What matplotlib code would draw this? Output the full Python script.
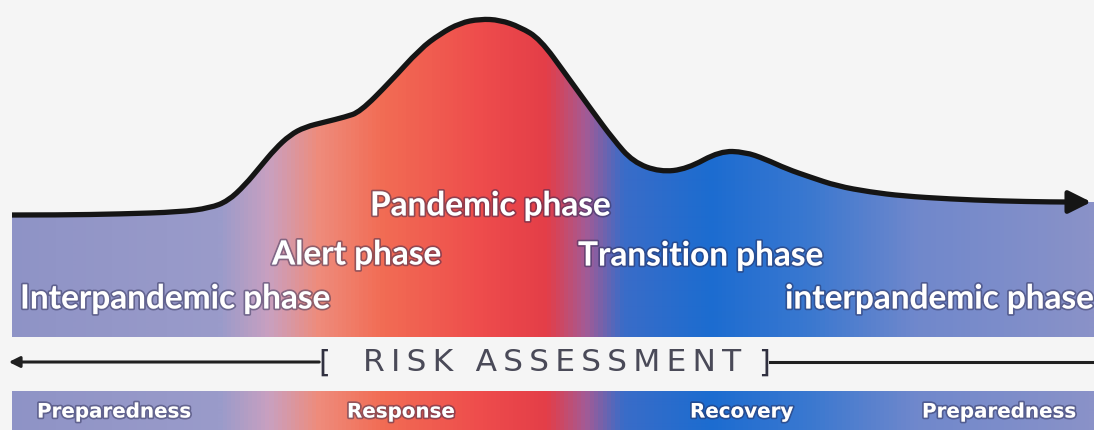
import numpy as np
import matplotlib
matplotlib.use("Agg")
import matplotlib.pyplot as plt
from matplotlib.colors import LinearSegmentedColormap
from matplotlib.patches import PathPatch, Rectangle
from matplotlib.path import Path
import matplotlib.patheffects as pe

# curve profile (pixel coords, y down) - used as control points of a smooth path
curve_x = [12, 60, 120, 180, 210, 228, 245, 260, 275, 290, 305, 325, 345, 360,
           390, 420, 440, 460, 480, 500, 520, 540, 567, 593, 613, 633, 660,
           687, 720, 745, 765, 787, 810, 837, 870, 903, 950, 1000, 1053, 1080]
curve_y = [216, 216, 215, 213, 209, 202, 186, 168, 150, 136, 128, 123, 118, 113,
           83, 50, 35, 24, 20, 21, 28, 40, 77, 113, 140, 163, 173,
           170, 152, 153, 160, 170, 178, 187, 193, 197, 200, 202, 203, 203]

phase_labels = ["Interpandemic phase", "Alert phase", "Pandemic phase",
                "Transition phase", "interpandemic phase"]
phase_x = [20, 272, 370, 578, 785]
phase_y = [300, 256, 207, 257, 300]

action_labels = ["Preparedness", "Response", "Recovery", "Preparedness"]
action_x = [37, 347, 690, 922]

W, H = 1094, 431
fig = plt.figure(figsize=(W / 100, H / 100), dpi=100)
fig.patch.set_facecolor("#f5f5f5")
ax = fig.add_axes([0, 0, 1, 1])
ax.set_xlim(0, W)
ax.set_ylim(H, 0)
ax.axis("off")

stops = [(0.00, "#8e93c6"), (0.20, "#9a9bca"), (0.245, "#c9a0c0"),
         (0.29, "#ee8c7c"), (0.35, "#f26c54"), (0.44, "#ee4c4c"),
         (0.50, "#e43e48"), (0.535, "#a65a94"), (0.57, "#3a6cc8"),
         (0.65, "#1c6cd0"), (0.74, "#3a78d0"), (0.84, "#7088cc"),
         (1.00, "#8a92c8")]
cmap = LinearSegmentedColormap.from_list("phase", stops)
grad = cmap(np.linspace(0, 1, 1094))[None, :, :3]

# smooth path: quadratic bezier through midpoints
pts = list(zip(curve_x, curve_y))
verts = [pts[0]]
codes = [Path.MOVETO]
for i in range(1, len(pts) - 1):
    mid = ((pts[i][0] + pts[i + 1][0]) / 2, (pts[i][1] + pts[i + 1][1]) / 2)
    verts += [pts[i], mid]
    codes += [Path.CURVE3, Path.CURVE3]
verts.append(pts[-1])
codes.append(Path.LINETO)
line_path = Path(verts, codes)

base = 338
fill_path = Path(verts + [(W, curve_y[-1]), (W, base), (curve_x[0], base), pts[0]],
                 codes + [Path.LINETO] * 3 + [Path.CLOSEPOLY])
fill_patch = PathPatch(fill_path, facecolor="none", edgecolor="none")
ax.add_patch(fill_patch)
im = ax.imshow(grad, extent=(0, W, base, 0), aspect="auto", interpolation="bilinear")
im.set_clip_path(fill_patch)
ax.add_patch(PathPatch(line_path, facecolor="none", edgecolor="#151515", lw=3.8,
                       capstyle="butt", joinstyle="round"))
ax.annotate("", xy=(W, curve_y[-1]), xytext=(curve_x[-1] - 5, curve_y[-1]),
            arrowprops=dict(arrowstyle="-|>", color="#151515", lw=3.5, mutation_scale=34))

# bottom strip
strip = Rectangle((12, 392), W - 12, H - 392, facecolor="none", edgecolor="none")
ax.add_patch(strip)
im2 = ax.imshow(grad, extent=(0, W, H, 392), aspect="auto", interpolation="bilinear")
im2.set_clip_path(strip)

shadow = [pe.withStroke(linewidth=2.5, foreground=(0.15, 0.15, 0.3, 0.45))]
for lab, x, y in zip(phase_labels, phase_x, phase_y):
    ax.text(x, y, lab, color="white", fontsize=24, fontweight="bold", family="Lato",
            ha="left", va="center", path_effects=shadow)
for lab, x in zip(action_labels, action_x):
    ax.text(x, 413, lab, color="white", fontsize=14.3, fontweight="bold", family="DejaVu Sans",
            ha="left", va="center", path_effects=shadow)

# risk assessment arrow
ax.annotate("", xy=(6, 363), xytext=(322, 363),
            arrowprops=dict(arrowstyle="-|>", color="#202020", lw=2.2, mutation_scale=16))
ax.plot([770, W], [363, 363], color="#202020", lw=2.2)
ax.text(318, 363, "[", fontsize=22, color="#303040", ha="left", va="center", family="DejaVu Sans")
risk = "\u2009".join("RISK") + "\u2009 \u2009" + "\u2009".join("ASSESSMENT")
ax.text(552, 363, risk, fontsize=22.5, color="#4a4a58", ha="center", va="center",
        family="DejaVu Sans")
ax.text(758, 363, "]", fontsize=22, color="#303040", ha="left", va="center", family="DejaVu Sans")

fig.savefig("out.png", dpi=100, facecolor=fig.get_facecolor())
